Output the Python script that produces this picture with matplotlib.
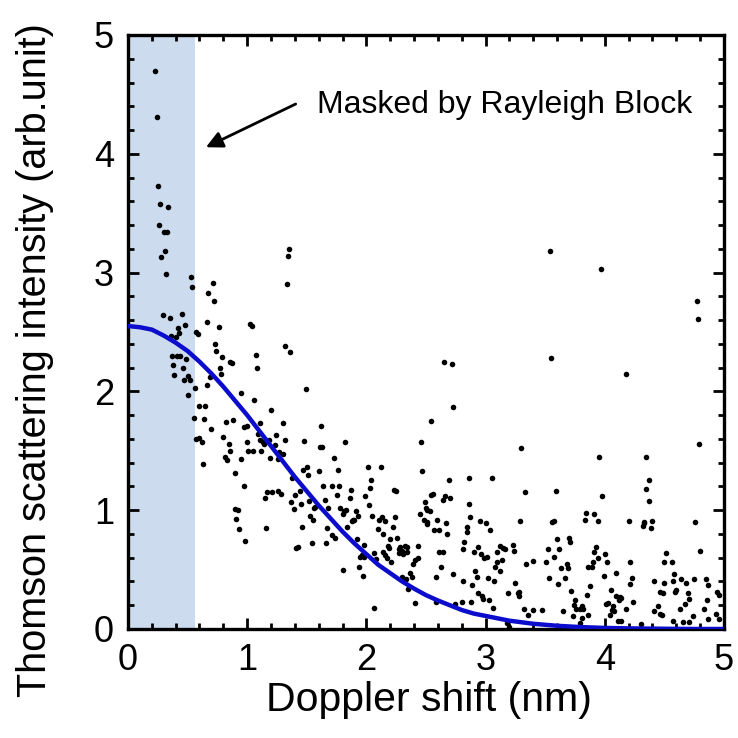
import numpy as np
import matplotlib
matplotlib.use('Agg')
import matplotlib.pyplot as plt
from matplotlib.ticker import MultipleLocator

plt.rcParams['font.family'] = ['Liberation Sans', 'DejaVu Sans']

pts = [
    (0.23, 4.70), (0.24, 4.31), (0.25, 3.73), (0.27, 3.58), (0.34, 3.55), (0.26, 3.40), (0.30, 3.34), (0.33, 3.34),
    (0.31, 3.18), (0.28, 3.13), (0.32, 2.99), (0.53, 2.96), (0.54, 2.88), (0.71, 2.91), (0.67, 2.83), (0.72, 2.76),
    (0.29, 2.64), (0.35, 2.62), (0.45, 2.65), (0.48, 2.56), (0.66, 2.58), (0.76, 2.54), (0.42, 2.53), (0.43, 2.49),
    (0.36, 2.47), (0.40, 2.46), (0.57, 2.50), (0.59, 2.48), (1.02, 2.57), (1.04, 2.55), (1.35, 3.20), (1.34, 3.14),
    (1.33, 2.90), (1.32, 2.38), (1.36, 2.33), (0.73, 2.40), (0.74, 2.34), (0.79, 2.29), (0.37, 2.30), (0.41, 2.30),
    (0.44, 2.30), (0.49, 2.27), (0.38, 2.22), (0.46, 2.20), (0.39, 2.14), (0.47, 2.10), (0.50, 2.13), (0.52, 2.10),
    (0.50, 1.97), (0.56, 2.03), (0.77, 2.20), (0.78, 2.15), (0.87, 2.24), (0.86, 2.25), (1.07, 2.31), (1.08, 2.20),
    (0.69, 2.12), (0.66, 2.05), (0.95, 1.99), (1.06, 1.93), (0.60, 1.88), (0.65, 1.88), (1.20, 1.84), (0.55, 1.78),
    (0.64, 1.77), (0.82, 1.74), (0.88, 1.76), (0.97, 1.70), (1.00, 1.71), (1.11, 1.73), (1.30, 1.73), (1.49, 2.02),
    (1.62, 1.71), (0.70, 1.68), (0.80, 1.62), (0.60, 1.61), (0.57, 1.60), (1.24, 1.63),
    (0.62, 1.57), (0.63, 1.39), (0.85, 1.56), (0.86, 1.50), (0.81, 1.45), (0.83, 1.42), (0.95, 1.43), (0.90, 1.31),
    (0.97, 1.20), (1.00, 1.57), (1.01, 1.50), (1.05, 1.50), (1.09, 1.64), (1.11, 1.59), (1.14, 1.56), (1.13, 1.57),
    (1.18, 1.59), (1.23, 1.55), (1.32, 1.59), (1.12, 1.50), (1.19, 1.44), (1.26, 1.43), (1.27, 1.49), (1.30, 1.47),
    (1.48, 1.58), (1.61, 1.53), (1.63, 1.53), (1.47, 1.34), (1.50, 1.36), (1.51, 1.30), (1.60, 1.33), (1.38, 1.27),
    (1.64, 1.20), (1.17, 1.15), (1.21, 1.15), (1.26, 1.16), (1.28, 1.14), (1.15, 1.10), (1.40, 1.13), (1.44, 1.16),
    (1.37, 1.07), (1.39, 1.01), (1.45, 1.05), (1.52, 1.08), (1.56, 1.02), (1.57, 1.03), (1.65, 1.09), (1.68, 1.02),
    (1.53, 0.95), (1.55, 0.92), (0.90, 1.01), (0.92, 1.00), (0.91, 0.93), (0.93, 0.84), (1.16, 0.85), (0.98, 0.74),
    (1.46, 0.86), (1.54, 0.72), (1.66, 0.72), (1.67, 0.85), (1.41, 0.68), (1.43, 0.69),
    (1.82, 1.57), (1.73, 1.44), (1.76, 1.34), (2.01, 1.36), (2.12, 1.36), (2.04, 1.25), (2.03, 1.19), (2.46, 1.57),
    (2.47, 1.33), (2.86, 1.27), (3.05, 1.27), (3.30, 1.52), (3.33, 1.15), (2.69, 1.25), (1.71, 1.20), (1.77, 1.20),
    (1.75, 1.13), (1.87, 1.17), (1.86, 1.10), (1.99, 1.12), (2.23, 1.17), (2.25, 1.16), (2.02, 1.04), (1.78, 1.02),
    (1.83, 1.00), (1.80, 0.97), (1.81, 0.99), (1.91, 0.99), (1.93, 0.95), (1.89, 0.92), (1.88, 0.91), (1.90, 0.92),
    (2.05, 0.95), (2.11, 0.92), (2.13, 0.94), (2.16, 0.91), (2.24, 0.94), (2.22, 0.86), (2.10, 0.84), (2.14, 0.80),
    (2.20, 0.76), (2.26, 0.77), (2.18, 0.70), (2.19, 0.68), (2.28, 0.69), (2.27, 0.67), (2.30, 0.66), (2.32, 0.70),
    (2.34, 0.69), (2.34, 0.65), (2.31, 0.63), (2.27, 0.64), (2.14, 0.65), (2.16, 0.62), (2.17, 0.60), (2.21, 0.56),
    (2.43, 0.70), (2.39, 0.55), (2.41, 0.58), (2.43, 0.60), (2.37, 0.47), (2.38, 0.44), (2.35, 0.34), (2.41, 0.22),
    (2.30, 0.44), (2.33, 0.42), (2.06, 0.18), (1.80, 0.50), (1.94, 0.52), (1.97, 0.45), (1.95, 0.61), (1.98, 0.61),
    (1.96, 0.62), (2.06, 0.64), (2.08, 0.59), (1.92, 0.76), (1.98, 0.71), (1.71, 0.79), (1.74, 0.77), (1.84, 0.86),
    (2.49, 1.07), (2.51, 1.00), (2.53, 0.99), (2.50, 1.02), (2.45, 0.97), (2.48, 0.92), (2.51, 0.90), (2.51, 0.88),
    (2.54, 1.13), (2.56, 1.14), (2.64, 1.09), (2.66, 1.12), (2.70, 1.10), (2.59, 0.92), (2.57, 0.83), (2.61, 0.83),
    (2.67, 0.89), (2.68, 0.80), (2.86, 1.05), (2.87, 0.94), (2.95, 0.91), (3.00, 0.89), (3.04, 0.83), (2.84, 0.82),
    (2.84, 0.86), (2.82, 0.73), (2.81, 0.67), (2.90, 0.65), (2.94, 0.69), (2.96, 0.63), (2.99, 0.60), (3.01, 0.61),
    (2.61, 0.65), (2.64, 0.65), (2.58, 0.44), (2.63, 0.52), (2.73, 0.46), (2.81, 0.40), (2.91, 0.49), (2.93, 0.44),
    (2.89, 0.37), (2.94, 0.30), (2.97, 0.28), (2.98, 0.25), (3.03, 0.24), (2.88, 0.23), (2.74, 0.21), (2.80, 0.23),
    (2.58, 0.23), (3.02, 0.43), (3.07, 0.40), (3.06, 0.18), (3.10, 0.65), (3.12, 0.70), (3.15, 0.68), (3.16, 0.67),
    (3.08, 0.52), (3.10, 0.56), (3.14, 0.58), (3.12, 0.49), (3.23, 0.71), (3.24, 0.66), (3.29, 0.91), (3.34, 0.55),
    (3.25, 0.39), (3.27, 0.30), (3.28, 0.31), (3.28, 0.28), (3.19, 0.30), (3.32, 0.17), (3.36, 0.12), (3.18, 0.05),
    (3.20, 0.02),
    (3.40, 0.16), (3.47, 0.16), (3.40, 0.57), (3.51, 0.56), (3.52, 0.67), (3.53, 0.43), (3.57, 0.61), (3.60, 0.76),
    (3.62, 0.67), (3.59, 1.16), (3.56, 0.90), (3.57, 0.91), (3.95, 1.45), (3.98, 1.12), (4.35, 1.45), (4.37, 1.25),
    (4.35, 1.18), (4.37, 1.08), (4.79, 1.56), (4.76, 0.90), (4.80, 0.66), (3.70, 0.77), (3.71, 0.73), (3.63, 0.51),
    (3.68, 0.55), (3.69, 0.51), (3.67, 0.43), (3.61, 0.38), (3.72, 0.32), (3.65, 0.15), (3.73, 0.11), (3.75, 0.24),
    (3.74, 0.20), (3.76, 0.17), (3.79, 0.17), (3.81, 0.19), (3.82, 0.17), (3.81, 0.09), (3.79, 0.05), (3.86, 0.12),
    (3.85, 0.29), (3.88, 0.36), (3.86, 0.52), (3.89, 0.52), (3.90, 0.56), (3.83, 0.92), (3.84, 0.98), (3.91, 0.97),
    (3.94, 0.91), (3.91, 0.65), (3.93, 0.69), (3.94, 0.60), (3.99, 0.45), (4.00, 0.63), (4.02, 0.56), (4.01, 0.21),
    (4.03, 0.22), (4.04, 0.12), (4.06, 0.16), (4.07, 0.19), (4.08, 0.15), (4.05, 0.33), (4.09, 0.47), (4.09, 0.28),
    (4.13, 0.27), (4.14, 0.26), (4.12, 0.24), (4.11, 0.07), (4.14, 0.07), (4.18, 0.17), (4.20, 0.91), (4.21, 0.56),
    (4.21, 0.38), (4.23, 0.43), (4.24, 0.23), (4.30, 0.04), (4.32, 0.87), (4.33, 0.89), (4.33, 0.90), (4.39, 0.85),
    (4.40, 0.91), (4.41, 0.40), (4.41, 0.15), (4.45, 0.19), (4.46, 0.13), (4.48, 0.12), (4.46, 0.31), (4.49, 0.30),
    (4.50, 0.39), (4.51, 0.64), (4.50, 0.56), (4.56, 0.56), (4.58, 0.46), (4.57, 0.40), (4.59, 0.31), (4.60, 0.33),
    (4.57, 0.07), (4.63, 0.17), (4.64, 0.42), (4.68, 0.39), (4.70, 0.30), (4.71, 0.25), (4.67, 0.21), (4.66, 0.06),
    (4.71, 0.06), (4.74, 0.11), (4.75, 0.42), (4.83, 0.17), (4.86, 0.24), (4.85, 0.42), (4.87, 0.37), (4.87, 0.08),
    (4.93, 0.13), (4.94, 0.31), (4.96, 0.29), (4.96, 0.08),
    (3.54, 3.18), (3.97, 3.03), (4.77, 2.76), (4.78, 2.61), (3.55, 2.28), (4.18, 2.15),
    (2.65, 2.25), (2.72, 2.23), (2.73, 1.87), (2.54, 1.75),
]
shift = np.array([p[0] for p in pts])
intensity = np.array([p[1] for p in pts])

# fitted gaussian
fit_x = [0.0, 0.1, 0.2, 0.3, 0.4, 0.5, 0.6, 0.7, 0.8, 0.9, 1.0, 1.1, 1.2, 1.3, 1.4, 1.5,
         1.6, 1.7, 1.8, 1.9, 2.0, 2.1, 2.2, 2.3, 2.4, 2.5, 2.6, 2.7, 2.8, 2.9, 3.0,
         3.2, 3.4, 3.6, 3.8, 4.0, 4.2, 4.4, 4.6, 4.8, 5.0]
fit_y = [2.55, 2.54, 2.52, 2.47, 2.41, 2.34, 2.25, 2.15, 2.04, 1.92, 1.80, 1.67, 1.54, 1.41, 1.28, 1.16,
         1.04, 0.93, 0.82, 0.72, 0.63, 0.54, 0.47, 0.40, 0.34, 0.285, 0.24, 0.20, 0.16, 0.13, 0.11,
         0.07, 0.044, 0.027, 0.016, 0.009, 0.005, 0.003, 0.001, 0.0, 0.0]

mask_range = (0.0, 0.56)

fig = plt.figure(figsize=(7.38, 7.38), dpi=100)
ax = fig.add_axes([0.1734, 0.1477, 0.8076, 0.8049])

ax.axvspan(*mask_range, color='#cddbee', zorder=0, lw=0)
ax.scatter(shift, intensity, s=16, color='black', zorder=2, lw=0)
ax.plot(fit_x, fit_y, color='#0c0ccc', lw=3.2, zorder=3)

ax.annotate('', xy=(0.654, 4.055), xytext=(1.407, 4.419),
            arrowprops=dict(arrowstyle='-|>,head_length=0.5,head_width=0.25',
                            mutation_scale=20, lw=2, color='black', shrinkA=0, shrinkB=0))
ax.text(1.59, 4.41, 'Masked by Rayleigh Block', fontsize=23, va='center', ha='left')

ax.set_xlim(0, 5)
ax.set_ylim(0, 5)
ax.xaxis.set_major_locator(MultipleLocator(1))
ax.xaxis.set_minor_locator(MultipleLocator(0.2))
ax.yaxis.set_major_locator(MultipleLocator(1))
ax.yaxis.set_minor_locator(MultipleLocator(0.2))
ax.tick_params(which='both', direction='in', top=True, right=True, width=2)
ax.tick_params(which='major', length=8, labelsize=26, pad=10)
ax.tick_params(which='minor', length=4)
for sp in ax.spines.values():
    sp.set_linewidth(2.4)

ax.set_xlabel('Doppler shift (nm)', fontsize=29.5, va='center')
ax.xaxis.set_label_coords(0.505, -0.12)
ax.set_ylabel('Thomson scattering intensity (arb.unit)', fontsize=28.5, va='center')
ax.yaxis.set_label_coords(-0.156, 0.452)

fig.savefig('out.png', dpi=100)
